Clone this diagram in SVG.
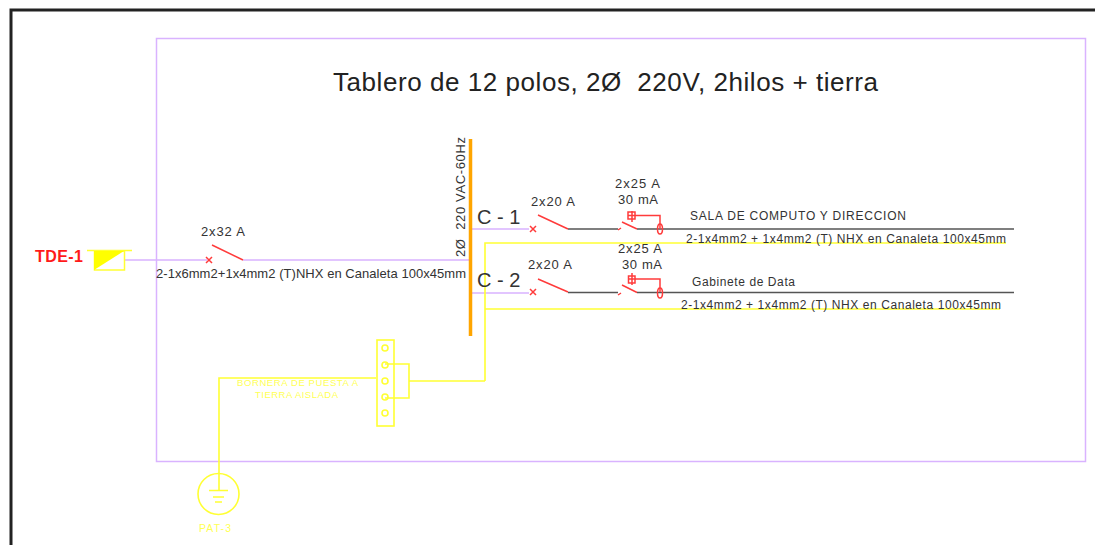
<svg xmlns="http://www.w3.org/2000/svg" width="1095" height="545" viewBox="0 0 1095 545">
<style>
text{font-family:"Liberation Sans",Arial,sans-serif;fill:#333}
.p{fill:none;stroke:#d9b3ff;stroke-width:1.5}
.w{fill:none;stroke:#ffff33;stroke-width:1.6}
.r{fill:none;stroke:#ff3b3b;stroke-width:1.5}
.k{fill:none;stroke:#555;stroke-width:1.6}
.s{font-size:13px}
.y{font-size:9.500px;fill:#ffff55}
</style>
<rect width="1095" height="545" fill="#fff"/>
<path d="M11 545V10H1095" fill="none" stroke="#222" stroke-width="3"/>
<rect id="frame" x="156.500" y="38.500" width="929" height="423" class="p"/>
<text id="title" x="333" y="91" font-size="26" textLength="545" xml:space="preserve" style="fill:#222">Tablero de 12 polos, 2Ø  220V, 2hilos + tierra</text>
<g id="connectors">
<path class="p" d="M124 260H207M243 260H470M472 229H529M472 293H529"/>
<path class="k" d="M568 229H618M637 229H1014M568 292.500H618M637 292.500H1014"/>
<path class="w" d="M485 381V243H1006M485 309H1000M409 381H485M376 378H219V490"/>
</g>
<g id="tde1">
<text x="35" y="262" font-size="16" font-weight="bold" textLength="48" style="fill:#ff1a1a">TDE-1</text>
<path d="M87 250.500H132" stroke="#ffff33" stroke-width="1.500"/>
<rect x="94.500" y="251" width="30" height="19" fill="#fff" stroke="#ffff33" stroke-width="1.500"/>
<path d="M94 270V251H124Z" fill="#ffff00"/>
</g>
<g id="main-breaker">
<text x="201" y="236" class="s" textLength="44">2x32 A</text>
<path class="r" d="M206 257L212 263M212 257L206 263M212 245L243 260"/>
<text x="156" y="278" class="s" textLength="310">2-1x6mm2+1x4mm2 (T)NHX en Canaleta 100x45mm</text>
</g>
<g id="busbar">
<path d="M470.500 139V336" stroke="#ffa500" stroke-width="3.500"/>
<text transform="translate(465 257) rotate(-90)" class="s" textLength="120" xml:space="preserve">2Ø  220 VAC-60Hz</text>
</g>
<g id="c1">
<text x="477" y="224" font-size="20">C - 1</text>
<text x="531" y="206" class="s" textLength="44">2x20 A</text>
<path class="r" d="M530 226L536 232M536 226L530 232M538 215L568 229"/>
</g>
<g id="c2">
<text x="477" y="287" font-size="20">C - 2</text>
<text x="528" y="269" class="s" textLength="44">2x20 A</text>
<path class="r" d="M530 289L536 295M536 289L530 295M538 279L568 292"/>
</g>
<g id="rcd1">
<text x="615" y="188" class="s" textLength="45">2x25 A</text>
<text x="618" y="204" class="s" textLength="40">30 mA</text>
<path class="r" d="M618 230L621 228M622 222L637 229M632 222V211M628 215.500H660V229"/>
<rect x="628" y="212" width="7" height="7" class="r" fill="#ff9a9a"/>
<ellipse cx="660" cy="229" rx="2.500" ry="5" class="r"/>
</g>
<g id="rcd2">
<text x="618" y="253" class="s" textLength="44">2x25 A</text>
<text x="622" y="269" class="s" textLength="40">30 mA</text>
<path class="r" d="M618 295L621 293M622 285L637 292.500M632 285V273M628 279H660V292"/>
<rect x="628.500" y="276" width="6.500" height="7" class="r"/>
<ellipse cx="660" cy="293" rx="2.500" ry="5" class="r"/>
</g>
<g id="load1">
<text x="690" y="220" font-size="12" textLength="216">SALA DE COMPUTO Y DIRECCION</text>
<text x="686" y="243" font-size="12" textLength="320">2-1x4mm2 + 1x4mm2 (T) NHX en Canaleta 100x45mm</text>
</g>
<g id="load2">
<text x="692" y="286" font-size="12" textLength="103">Gabinete de Data</text>
<text x="681" y="309" font-size="12" textLength="320">2-1x4mm2 + 1x4mm2 (T) NHX en Canaleta 100x45mm</text>
</g>
<g id="bornera">
<rect x="377" y="340" width="17" height="86" class="w"/>
<circle cx="385" cy="348" r="3" class="w"/>
<circle cx="385" cy="365" r="3" class="w"/>
<circle cx="385" cy="381" r="3" class="w"/>
<circle cx="385" cy="397" r="3" class="w"/>
<circle cx="385" cy="413" r="3" class="w"/>
<path class="w" d="M385 364H409V398H385"/>
<text x="237" y="386" class="y" textLength="121">BORNERA DE PUESTA A</text>
<text x="255" y="398" class="y" textLength="83">TIERRA AISLADA</text>
</g>
<g id="pat3">
<circle cx="218.500" cy="494" r="20.500" class="w"/>
<path class="w" d="M209 490.500H228M213 497H224M215 502H222"/>
<text x="199" y="532" font-size="10.500" textLength="32" style="fill:#ffff55">PAT-3</text>
</g>
</svg>
